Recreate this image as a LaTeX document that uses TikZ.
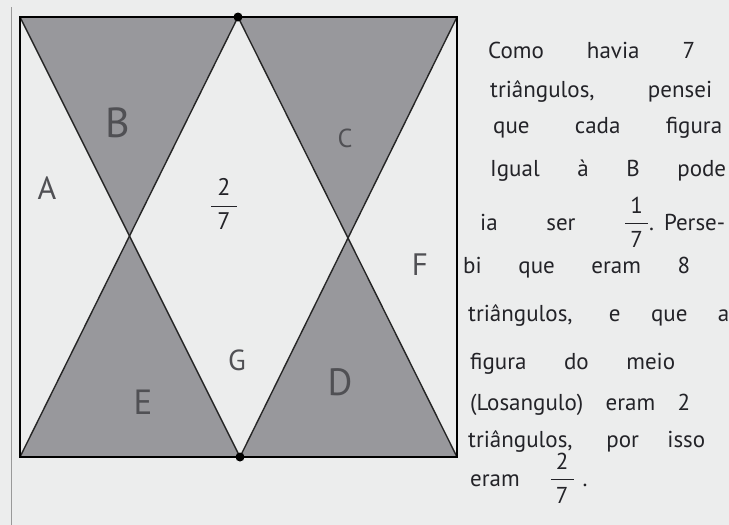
\documentclass[tikz,border=0pt]{standalone}
\usepackage{fontspec}
\usepackage{amsmath}
\setmainfont{PT Sans}
\usetikzlibrary{calc}
\definecolor{paper}{RGB}{236,237,237}
\definecolor{shade}{RGB}{152,152,156}
\definecolor{ink}{RGB}{35,35,40}
\definecolor{pencil}{RGB}{80,80,84}
\newcommand\hfr[3][1pt]{\ensuremath{\genfrac{}{}{#1}{0}{\mbox{#2}}{\mbox{#3}}}}
\begin{document}
\begin{tikzpicture}[x=1pt,y=-1pt,
  edge/.style={line width=1.4pt,draw=black!85},
  frame/.style={line width=2.4pt,draw=black},
  region/.style={fill=shade},
  dotmark/.style={circle,fill=black,inner sep=0pt,minimum size=9pt},
  lbl/.style={text=pencil,inner sep=0pt},
  hand/.style={anchor=base west,inner sep=0pt,text=ink,font=\fontsize{23}{23}\selectfont}]
\fill[paper] (0,0) rectangle (729,525);
\useasboundingbox (0,0) rectangle (729,525);
\draw[black!40,line width=0.8pt] (11,7) -- (11,525);
% geometry
\coordinate (tl) at (20,17);
\coordinate (tr) at (457,17);
\coordinate (bl) at (20,457);
\coordinate (br) at (457,457);
\coordinate (tm) at (238,17);
\coordinate (bm) at (240,457);
\coordinate (cl) at (intersection of tl--bm and bl--tm);
\coordinate (cr) at (intersection of tr--bm and br--tm);
% shaded triangles
\fill[region] (tl) -- (tm) -- (cl) -- cycle;
\fill[region] (tm) -- (tr) -- (cr) -- cycle;
\fill[region] (bl) -- (cl) -- (bm) -- cycle;
\fill[region] (bm) -- (cr) -- (br) -- cycle;
% lines
\draw[edge] (tl) -- (bm) -- (tr);
\draw[edge] (bl) -- (tm) -- (br);
\draw[frame] (tl) rectangle (br);
\node[dotmark] (topdot) at (tm) {};
\node[dotmark] (botdot) at (bm) {};
% region labels
\node[lbl,font=\fontsize{32}{32}\selectfont] (A) at (47,188) {A};
\node[lbl,font=\fontsize{42}{42}\selectfont] (B) at (118,123) {B};
\node[lbl,font=\fontsize{26}{26}\selectfont] (C) at (345,138) {C};
\node[lbl,font=\fontsize{38}{38}\selectfont] (D) at (340,382) {D};
\node[lbl,font=\fontsize{35}{35}\selectfont] (E) at (143,402) {E};
\node[lbl,font=\fontsize{31}{31}\selectfont] (F) at (420,265) {F};
\node[lbl,font=\fontsize{29}{29}\selectfont] (G) at (237,360) {G};
\node[lbl,text=ink,font=\fontsize{24}{24}\selectfont] (mid) at (224,204) {\hfr[1.4pt]{\hspace{6pt}2\hspace{6pt}}{7}};
% handwritten text
\node[hand] (l1) at (488,58) {\makebox[207pt][s]{Como havia 7}};
\node[hand] (l2) at (490,97) {\makebox[222pt][s]{triângulos, pensei}};
\node[hand] (l3) at (493,133) {\makebox[229pt][s]{que cada figura}};
\node[hand] (l4) at (490,176) {\makebox[236pt][s]{Igual à B pode}};
\node[hand] (l5) at (480,230) {\makebox[245pt][s]{ia ser \hfr[1.2pt]{\hspace{5pt}1\hspace{5pt}}{7}.\hspace{10pt}Perse-}};
\node[hand] (l6) at (463,273) {\makebox[227pt][s]{bi que eram 8}};
\node[hand] (l7) at (468,321) {\makebox[261pt][s]{triângulos, e que a}};
\node[hand] (l8) at (470,369) {\makebox[205pt][s]{figura do meio}};
\node[hand] (l9) at (470,410) {\makebox[220pt][s]{(Losangulo) eram 2}};
\node[hand] (l10) at (468,447) {\makebox[237pt][s]{triângulos, por isso}};
\node[hand] (l11) at (470,486) {eram\hspace{30pt}\hfr[1.2pt]{\hspace{5pt}2\hspace{5pt}}{7}\hspace{8pt}.};
\end{tikzpicture}
\end{document}
